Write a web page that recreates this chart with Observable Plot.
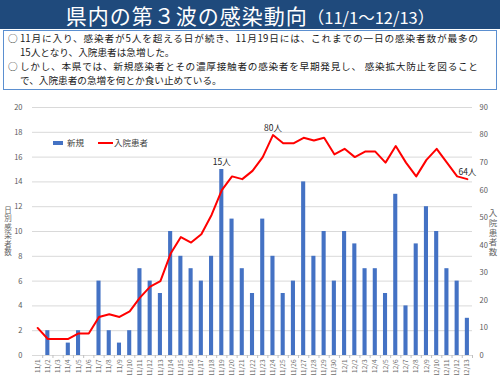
<!DOCTYPE html>
<html><head><meta charset="utf-8">
<script src="https://cdn.jsdelivr.net/npm/d3@7"></script>
<script src="https://cdn.jsdelivr.net/npm/@observablehq/plot@0.6"></script>
<style>
html,body{margin:0;padding:0;}
body{width:500px;height:375px;overflow:hidden;background:#fff;position:relative;font-family:"Noto Sans CJK JP","Noto Sans",sans-serif;}
#hdr{position:absolute;left:0;top:0;width:500px;height:29px;background:#1f4a7c;}
#ttl{position:absolute;left:0;top:0;width:500px;color:#fff;text-align:center;line-height:30.5px;white-space:nowrap;}
#ttl .main{font-size:21px;letter-spacing:1px;}
#ttl .sub{font-size:16.5px;}
#box{position:absolute;left:3px;top:30px;width:492px;height:58px;border:1px solid #5b8fd0;background:#fff;font-size:9.65px;line-height:14px;color:#1a1a1a;}
.p{position:relative;padding-left:16px;}
.p .bul{position:absolute;left:4px;top:0;}
.ln{display:block;white-space:nowrap;width:458px;}
.j{text-align:justify;text-align-last:justify;}
#chart{position:absolute;left:0;top:92px;}
.ov{position:absolute;font-size:8.5px;color:#404040;white-space:nowrap;line-height:1;}
.vt{position:absolute;word-break:break-all;color:#666;text-align:center;}
</style></head>
<body>
<div id="hdr"></div>
<div id="ttl"><span class="main">県内の第３波の感染動向</span><span class="sub">（11/1～12/13）</span></div>
<div id="box">
  <div class="p"><span class="bul">○</span><span class="ln j">11月に入り、感染者が5人を超える日が続き、11月19日には、これまでの一日の感染者数が最多の</span><span class="ln">15人となり、入院患者は急増した。</span></div>
  <div class="p"><span class="bul">○</span><span class="ln j">しかし、本県では、新規感染者とその濃厚接触者の感染者を早期発見し、 感染拡大防止を図ること</span><span class="ln">で、入院患者の急増を何とか食い止めている。</span></div>
</div>
<div id="chart"></div>
<div class="vt" style="left:3px;top:206px;width:10px;font-size:7.5px;line-height:8.4px;">日別感染者数</div>
<div class="vt" style="left:488px;top:208px;width:10px;font-size:8.5px;line-height:9.75px;">入院患者数</div>
<div style="position:absolute;left:53px;top:141px;width:10px;height:4px;background:#4472C4;"></div>
<div class="ov" style="left:67px;top:138px;">新規</div>
<div style="position:absolute;left:98px;top:142px;width:15px;height:2px;background:#ff0000;"></div>
<div class="ov" style="left:114px;top:138px;">入院患者</div>
<script>
const dates = ["11/1","11/2","11/3","11/4","11/5","11/6","11/7","11/8","11/9","11/10",
  "11/11","11/12","11/13","11/14","11/15","11/16","11/17","11/18","11/19","11/20",
  "11/21","11/22","11/23","11/24","11/25","11/26","11/27","11/28","11/29","11/30",
  "12/1","12/2","12/3","12/4","12/5","12/6","12/7","12/8","12/9","12/10","12/11","12/12","12/13"];
const newCases = [0,2,0,1,2,0,6,2,1,2, 7,6,5,10,8,7,6,8,15,11, 7,5,11,8,5,6,14,8,10,6, 10,9,7,7,5,13,4,9,12,10,7,6,3];
const inpatients = [10,6,6,6,8,8,14,15,14,16, 21,25,27,37,43,41,44,51,60,65, 64,67,72,80,77,77,79,78,79,73, 75,72,74,74,70,76,70,65,71,75,70,65,64];
const leftTicks = [0,2,4,6,8,10,12,14,16,18,20];
const rightTicks = [0,10,20,30,40,50,60,70,80,90];
const barLabels = [{date:"11/19", label:"15人"}];
const lineLabels = [{date:"11/24", label:"80人"}, {date:"12/13", label:"64人"}];

const k = 20 / 90; // right axis (0–90) mapped onto left axis (0–20)
const data = dates.map((d, i) => ({date: d, cases: newCases[i], hosp: inpatients[i]}));
const byDate = new Map(data.map(d => [d.date, d]));
const W = 500, ML = 32, MR = 28;
const step = (W - ML - MR) / dates.length;

const chart = Plot.plot({
  width: W, height: 283,
  marginTop: 15, marginBottom: 20, marginLeft: ML, marginRight: MR,
  style: {fontFamily: "'Noto Sans CJK JP','Noto Sans',sans-serif", background: "transparent"},
  x: {type: "band", domain: dates, paddingInner: 0.6, paddingOuter: 0.3, round: false},
  y: {domain: [0, 20]},
  marks: [
    Plot.gridY(leftTicks, {stroke: "#d9d9d9", strokeOpacity: 1}),
    Plot.barY(data, {x: "date", y: "cases", fill: "#4472C4"}),
    Plot.lineY(data, {x: "date", y: d => d.hosp * k, stroke: "#ff0000", strokeWidth: 2}),
    Plot.text(barLabels, {x: "date", y: d => byDate.get(d.date).cases, text: "label", dy: -7, fontSize: 8.5, fill: "#262626"}),
    Plot.text(lineLabels, {x: "date", y: d => byDate.get(d.date).hosp * k, text: "label", dy: -7, fontSize: 8.5, fill: "#262626"}),
    Plot.axisY(leftTicks, {anchor: "left", tickSize: 0, tickPadding: 10, fontSize: 7.5, color: "#595959", label: null}),
    Plot.axisY(rightTicks.map(v => v * k), {anchor: "right", tickSize: 0, tickPadding: 7, fontSize: 7.5, color: "#595959", label: null, tickFormat: d => Math.round(d / k)}),
    Plot.axisX({tickSize: 0, tickRotate: -90, tickPadding: 4, fontSize: 6.5, color: "#6b6b6b", label: null}),
    Plot.axisX({tickSize: 3, text: null, dx: step / 2, stroke: "#bfbfbf", label: null})
  ]
});
document.getElementById("chart").appendChild(chart);
</script>
</body></html>
